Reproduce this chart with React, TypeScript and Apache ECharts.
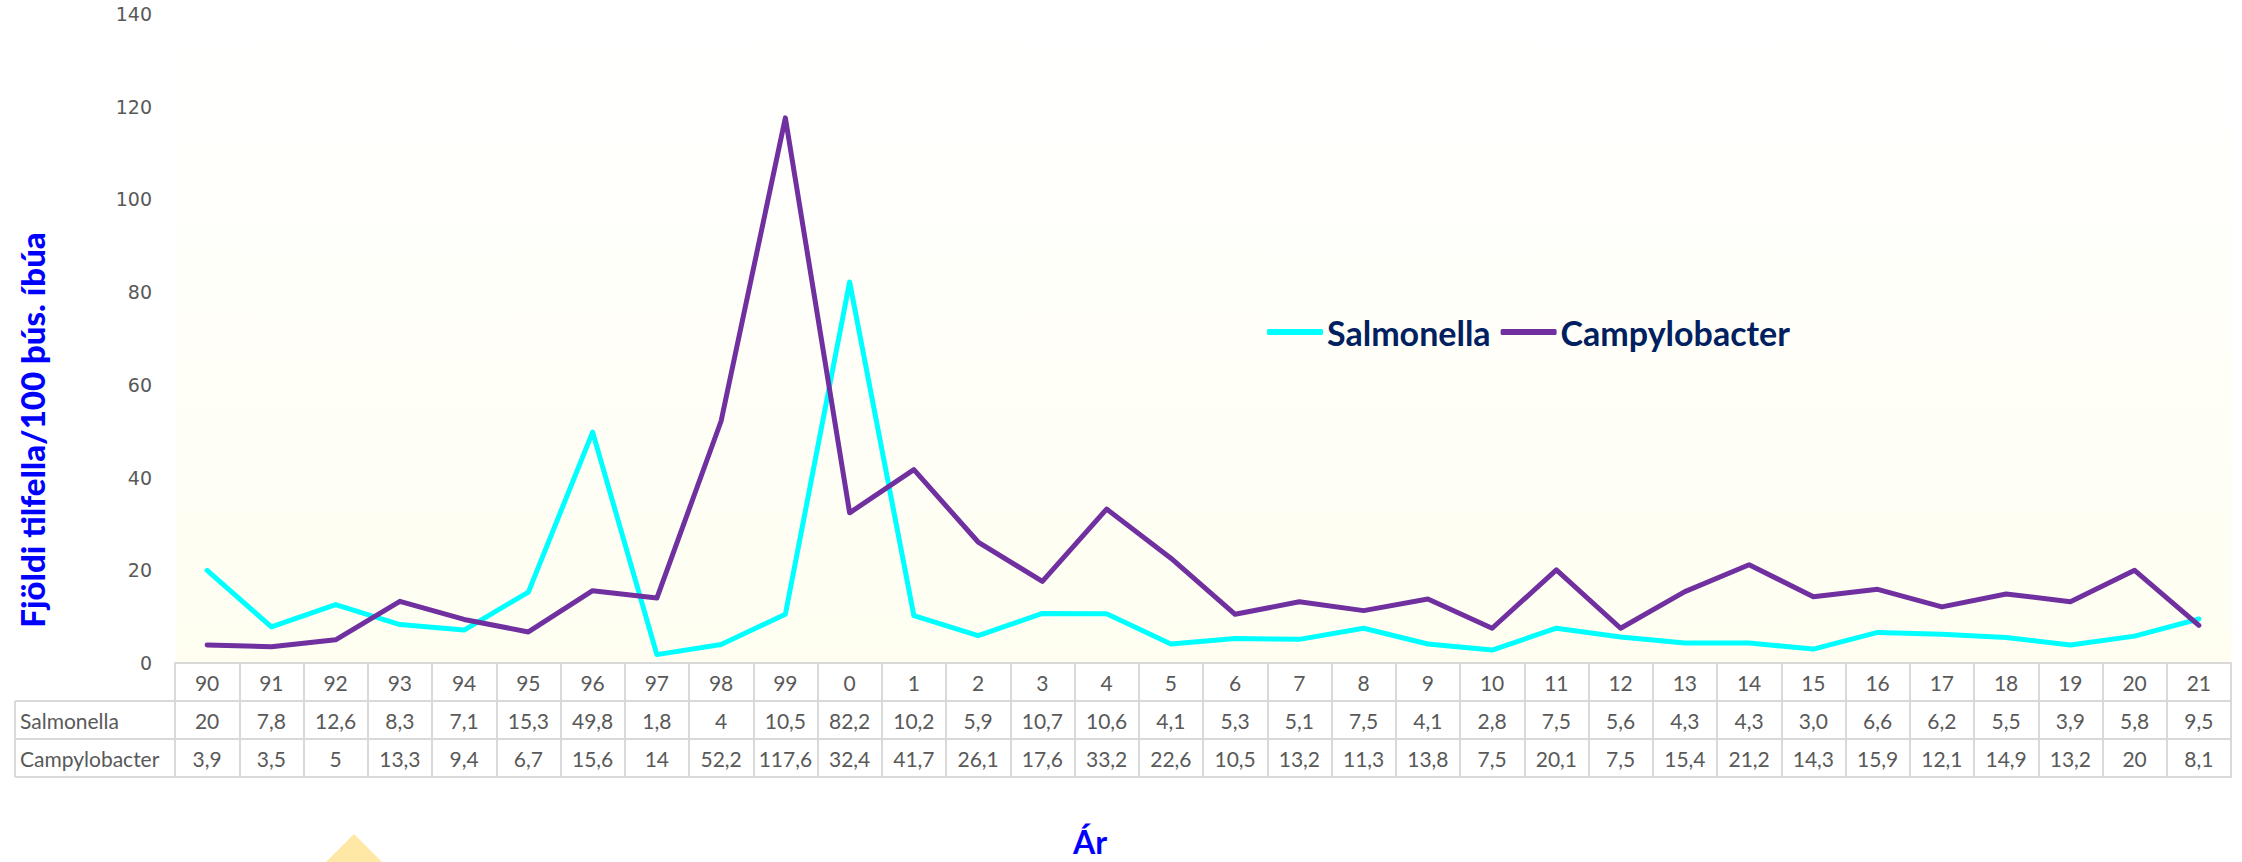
import React, { useEffect, useRef } from "react";
import * as echarts from "echarts";

const years = ["90","91","92","93","94","95","96","97","98","99","0","1","2","3","4","5","6","7","8","9","10","11","12","13","14","15","16","17","18","19","20","21"];
const salmonellaLabels = ["20","7,8","12,6","8,3","7,1","15,3","49,8","1,8","4","10,5","82,2","10,2","5,9","10,7","10,6","4,1","5,3","5,1","7,5","4,1","2,8","7,5","5,6","4,3","4,3","3,0","6,6","6,2","5,5","3,9","5,8","9,5"];
const campylobacterLabels = ["3,9","3,5","5","13,3","9,4","6,7","15,6","14","52,2","117,6","32,4","41,7","26,1","17,6","33,2","22,6","10,5","13,2","11,3","13,8","7,5","20,1","7,5","15,4","21,2","14,3","15,9","12,1","14,9","13,2","20","8,1"];
const yTicks = { min: 0, max: 140, interval: 20 };
const seriesNames = ["Salmonella", "Campylobacter"];
const yTitle = "Fjöldi tilfella/100 þús. íbúa";
const xTitle = "Ár";

const toNum = (s: string) => parseFloat(s.replace(",", "."));
const salmonella = salmonellaLabels.map(toNum);
const campylobacter = campylobacterLabels.map(toNum);

const W = 2242;
const H = 862;
const GL = 175;
const GR = 11;
const GT = 14;
const GB = 199;
const ROW = 38;
const BASE = H - GB; // y of axis line
const TABLE_FONT = "Lato, 'Open Sans', sans-serif";
const GRID_COLOR = "#D9D9D9";
const TEXT_COLOR = "#595959";

function tableAxis(data: string[], offset: number, showLabel: boolean, showTick: boolean) {
  return {
    type: "category",
    position: "bottom",
    offset,
    data,
    boundaryGap: true,
    axisLine: { show: true, lineStyle: { color: GRID_COLOR, width: 2 } },
    axisTick: { show: showTick, length: ROW, lineStyle: { color: GRID_COLOR, width: 2 } },
    axisLabel: {
      show: showLabel,
      interval: 0,
      margin: 9,
      color: TEXT_COLOR,
      fontFamily: TABLE_FONT,
      fontSize: 21,
      lineHeight: 20,
    },
    splitLine: { show: false },
  };
}

export default function App() {
  const ref = useRef<HTMLDivElement>(null);
  useEffect(() => {
    if (!ref.current) return;
    const chart = echarts.init(ref.current, null, { renderer: "svg", width: W, height: H });
    const leftX = 15;
    const line = (x1: number, y1: number, x2: number, y2: number) => ({
      type: "line",
      shape: { x1, y1, x2, y2 },
      style: { stroke: GRID_COLOR, lineWidth: 2 },
      silent: true,
    });
    chart.setOption({
      animation: false,
      backgroundColor: "#FFFFFF",
      grid: {
        left: GL,
        right: GR,
        top: GT,
        bottom: GB,
        show: true,
        borderWidth: 0,
        backgroundColor: new echarts.graphic.LinearGradient(0, 0, 0, 1, [
          { offset: 0, color: "#FFFFFF" },
          { offset: 1, color: "#FFFEF1" },
        ]),
      },
      legend: {
        left: 1262,
        top: 309,
        itemWidth: 56,
        itemHeight: 6,
        itemGap: 10,
        icon: "roundRect",
        data: seriesNames,
        textStyle: {
          color: "#002060",
          fontFamily: TABLE_FONT,
          fontWeight: "bold",
          fontSize: 34,
          lineHeight: 36,
          padding: [0, 0, 0, -1],
        },
      },
      xAxis: [
        tableAxis(years, 0, true, true),
        tableAxis(salmonellaLabels, ROW, true, true),
        tableAxis(campylobacterLabels, ROW * 2, true, true),
        tableAxis(years, ROW * 3, false, false),
      ],
      yAxis: {
        type: "value",
        min: yTicks.min,
        max: yTicks.max,
        interval: yTicks.interval,
        axisLine: { show: false },
        axisTick: { show: false },
        splitLine: { show: false },
        axisLabel: {
          margin: 23,
          color: TEXT_COLOR,
          fontFamily: "'DejaVu Sans', sans-serif",
          fontSize: 19,
        },
      },
      series: [
        {
          name: seriesNames[0],
          type: "line",
          xAxisIndex: 0,
          data: salmonella,
          symbol: "none",
          color: "#00FFFF",
          lineStyle: { color: "#00FFFF", width: 5, cap: "round", join: "round" },
          z: 3,
        },
        {
          name: seriesNames[1],
          type: "line",
          xAxisIndex: 0,
          data: campylobacter,
          symbol: "none",
          color: "#7030A0",
          lineStyle: { color: "#7030A0", width: 5, cap: "round", join: "round" },
          z: 4,
        },
      ],
      graphic: [
        line(leftX, BASE + ROW, GL, BASE + ROW),
        line(leftX, BASE + ROW * 2, GL, BASE + ROW * 2),
        line(leftX, BASE + ROW * 3, GL, BASE + ROW * 3),
        line(leftX, BASE + ROW, leftX, BASE + ROW * 3),
        {
          type: "text",
          x: leftX + 5,
          y: BASE + ROW * 1.5,
          style: { text: seriesNames[0], fill: TEXT_COLOR, font: `21px ${TABLE_FONT}`, textVerticalAlign: "middle", textAlign: "left" },
        },
        {
          type: "text",
          x: leftX + 5,
          y: BASE + ROW * 2.5,
          style: { text: seriesNames[1], fill: TEXT_COLOR, font: `21px ${TABLE_FONT}`, textVerticalAlign: "middle", textAlign: "left" },
        },
        {
          type: "text",
          x: 32,
          y: 430,
          rotation: Math.PI / 2,
          style: { text: yTitle, fill: "#0000FF", font: `900 33px ${TABLE_FONT}`, textAlign: "center", textVerticalAlign: "middle" },
        },
        {
          type: "text",
          x: 1090,
          y: 841,
          style: { text: xTitle, fill: "#0000FF", font: `bold 32px ${TABLE_FONT}`, textAlign: "center", textVerticalAlign: "middle" },
        },
        {
          type: "polygon",
          shape: { points: [[354, 834], [384, 864], [324, 864]] },
          style: { fill: "#FFE7A6" },
          silent: true,
        },
      ],
    });
    return () => chart.dispose();
  }, []);
  return <div ref={ref} style={{ position: "fixed", left: 0, top: 0, width: W, height: H }} />;
}
